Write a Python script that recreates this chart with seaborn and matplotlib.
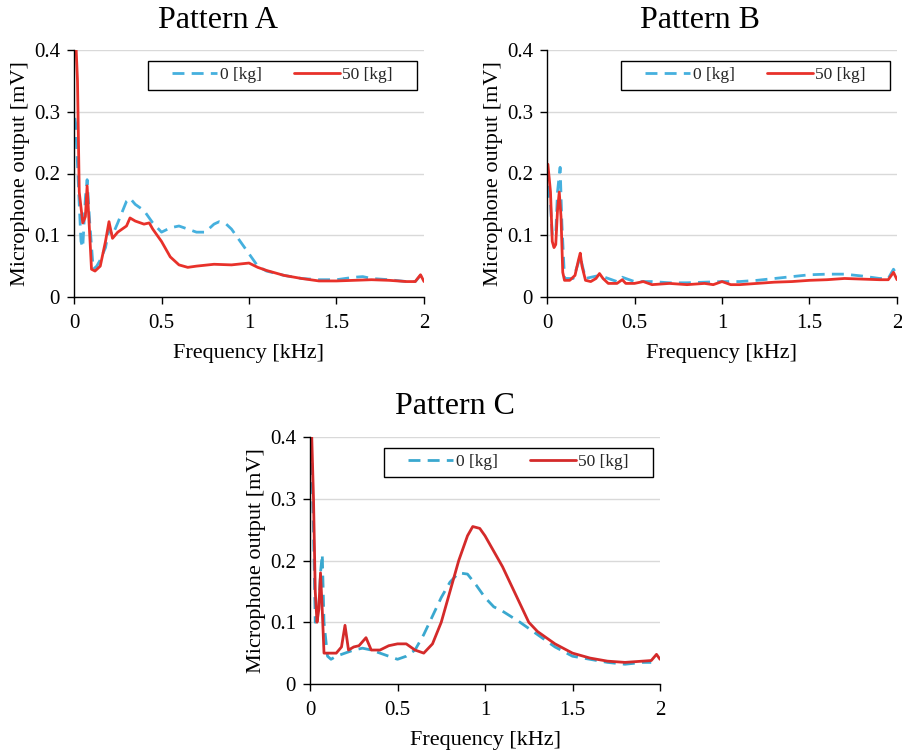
import numpy as np
import pandas as pd
import matplotlib
matplotlib.use("Agg")
import matplotlib.pyplot as plt
from matplotlib.patches import Rectangle
import seaborn as sns

# ---------------- data ----------------
titles = ["Pattern A", "Pattern B", "Pattern C"]
series_labels = ["0 [kg]", "50 [kg]"]

a0_f = [0.005, 0.01, 0.03, 0.04, 0.05, 0.065, 0.075, 0.09, 0.11, 0.13, 0.15, 0.18, 0.2, 0.22, 0.25, 0.3, 0.32,
        0.35, 0.4, 0.45, 0.5, 0.55, 0.6, 0.65, 0.7, 0.75, 0.8, 0.83, 0.87, 0.9, 0.95, 1.0, 1.05, 1.1, 1.2,
        1.3, 1.4, 1.5, 1.6, 1.65, 1.7, 1.8, 1.9, 1.95, 1.98, 2.0]
a0_v = [0.29, 0.28, 0.15, 0.09, 0.08, 0.16, 0.19, 0.12, 0.045, 0.05, 0.06, 0.08, 0.11, 0.1, 0.12, 0.155, 0.16,
        0.15, 0.14, 0.12, 0.105, 0.112, 0.115, 0.11, 0.105, 0.105, 0.118, 0.122, 0.118, 0.11, 0.09, 0.07, 0.05,
        0.042, 0.035, 0.03, 0.028, 0.028, 0.032, 0.033, 0.03, 0.028, 0.025, 0.025, 0.035, 0.025]
a50_f = [0.005, 0.02, 0.03, 0.05, 0.065, 0.075, 0.09, 0.1, 0.12, 0.15, 0.18, 0.2, 0.22, 0.25, 0.3, 0.32, 0.35,
         0.4, 0.43, 0.45, 0.5, 0.55, 0.6, 0.65, 0.7, 0.8, 0.9, 1.0, 1.05, 1.1, 1.2, 1.3, 1.4, 1.5, 1.6, 1.7,
         1.8, 1.9, 1.95, 1.98, 2.0]
a50_v = [0.45, 0.35, 0.17, 0.12, 0.13, 0.18, 0.1, 0.045, 0.042, 0.05, 0.09, 0.122, 0.095, 0.105, 0.115, 0.128,
         0.123, 0.118, 0.12, 0.11, 0.09, 0.065, 0.052, 0.048, 0.05, 0.053, 0.052, 0.055, 0.048, 0.043, 0.035,
         0.03, 0.026, 0.026, 0.027, 0.028, 0.027, 0.025, 0.025, 0.036, 0.025]

b0_f = [0.005, 0.02, 0.03, 0.05, 0.06, 0.075, 0.085, 0.1, 0.15, 0.19, 0.22, 0.3, 0.4, 0.43, 0.5, 0.6, 0.7,
        0.8, 0.9, 1.0, 1.1, 1.2, 1.3, 1.4, 1.5, 1.6, 1.7, 1.8, 1.9, 1.95, 1.98, 2.0]
b0_v = [0.18, 0.15, 0.1, 0.1, 0.17, 0.21, 0.12, 0.03, 0.03, 0.065, 0.03, 0.035, 0.025, 0.032, 0.025, 0.025,
        0.023, 0.023, 0.024, 0.025, 0.025, 0.027, 0.03, 0.033, 0.036, 0.037, 0.037, 0.034, 0.03, 0.03, 0.045,
        0.035]
b50_f = [0.005, 0.02, 0.03, 0.04, 0.05, 0.06, 0.07, 0.08, 0.09, 0.1, 0.13, 0.16, 0.18, 0.19, 0.2, 0.22, 0.25,
         0.28, 0.3, 0.32, 0.35, 0.4, 0.43, 0.45, 0.5, 0.55, 0.6, 0.7, 0.8, 0.9, 0.95, 1.0, 1.05, 1.1, 1.2,
         1.3, 1.4, 1.5, 1.6, 1.7, 1.8, 1.9, 1.95, 1.98, 2.0]
b50_v = [0.215, 0.17, 0.09, 0.08, 0.085, 0.14, 0.17, 0.13, 0.04, 0.027, 0.027, 0.035, 0.06, 0.071, 0.05, 0.027,
         0.025, 0.03, 0.038, 0.03, 0.022, 0.022, 0.028, 0.022, 0.022, 0.025, 0.02, 0.022, 0.02, 0.022, 0.02,
         0.025, 0.02, 0.02, 0.022, 0.024, 0.025, 0.027, 0.028, 0.03, 0.029, 0.028, 0.028, 0.04, 0.028]

c0_f = [0.005, 0.02, 0.03, 0.05, 0.06, 0.07, 0.08, 0.1, 0.12, 0.15, 0.2, 0.25, 0.3, 0.35, 0.4, 0.45, 0.5,
        0.55, 0.6, 0.65, 0.7, 0.75, 0.8, 0.85, 0.9, 0.95, 1.0, 1.05, 1.1, 1.2, 1.3, 1.4, 1.5, 1.6, 1.7, 1.8,
        1.9, 1.95]
c0_v = [0.42, 0.25, 0.1, 0.12, 0.18, 0.21, 0.1, 0.045, 0.04, 0.045, 0.05, 0.055, 0.058, 0.055, 0.05, 0.045,
        0.04, 0.045, 0.055, 0.08, 0.11, 0.14, 0.165, 0.18, 0.178, 0.16, 0.14, 0.125, 0.118, 0.1, 0.08, 0.06,
        0.045, 0.04, 0.035, 0.032, 0.035, 0.035]
c50_f = [0.005, 0.02, 0.03, 0.04, 0.05, 0.06, 0.07, 0.08, 0.1, 0.15, 0.18, 0.2, 0.22, 0.25, 0.28, 0.32, 0.35,
         0.4, 0.45, 0.5, 0.55, 0.6, 0.65, 0.7, 0.75, 0.8, 0.85, 0.9, 0.93, 0.97, 1.0, 1.05, 1.1, 1.15, 1.2,
         1.25, 1.3, 1.4, 1.5, 1.6, 1.7, 1.8, 1.9, 1.95, 1.98, 2.0]
c50_v = [0.45, 0.3, 0.15, 0.1, 0.12, 0.18, 0.12, 0.05, 0.05, 0.05, 0.06, 0.095, 0.055, 0.06, 0.062, 0.075, 0.055,
         0.055, 0.062, 0.065, 0.065, 0.055, 0.05, 0.065, 0.1, 0.15, 0.2, 0.24, 0.255, 0.252, 0.24, 0.215, 0.19,
         0.16, 0.13, 0.1, 0.085, 0.065, 0.05, 0.042, 0.037, 0.035, 0.037, 0.038, 0.048, 0.04]

x_ticks = [0, 0.5, 1, 1.5, 2]
x_tick_labels = ["0", "0.5", "1", "1.5", "2"]
y_ticks = [0, 0.1, 0.2, 0.3, 0.4]
y_tick_labels = ["0", "0.1", "0.2", "0.3", "0.4"]

panels = [
    (a0_f, a0_v, a50_f, a50_v, "#45B0DE", "#E8312A"),
    (b0_f, b0_v, b50_f, b50_v, "#45B0DE", "#E8312A"),
    (c0_f, c0_v, c50_f, c50_v, "#3AA8CF", "#D42A2A"),
]

# ---------------- style ----------------
sns.set_style("white")
plt.rcParams["font.family"] = ["Liberation Serif", "DejaVu Serif"]

fig = plt.figure(figsize=(9.02, 7.5), dpi=100)
W, H = 902, 750
boxes = [(74, 50, 424, 297), (547, 50, 897, 297), (310, 437, 660, 684)]
title_pos = [(218, 21), (700, 21), (455, 406)]
leg_x0, leg_x1, leg_y0, leg_y1 = 0.21, 0.98, 0.84, 0.955

for i, (box, (f0, v0, f50, v50, blue, red)) in enumerate(zip(boxes, panels)):
    l, t, r, b = box
    ax = fig.add_axes([l / W, 1 - b / H, (r - l) / W, (b - t) / H])
    df0 = pd.DataFrame({"f": f0, "v": v0})
    df50 = pd.DataFrame({"f": f50, "v": v50})
    sns.lineplot(data=df0, x="f", y="v", ax=ax, color=blue, linestyle=(0, (4.3, 2.6)),
                 linewidth=2.0, label=series_labels[0])
    sns.lineplot(data=df50, x="f", y="v", ax=ax, color=red, linewidth=2.0, label=series_labels[1])
    ax.set_xlim(0, 2)
    ax.set_ylim(0, 0.4)
    ax.set_xticks(x_ticks)
    ax.set_xticklabels(x_tick_labels)
    ax.set_yticks(y_ticks)
    ax.set_yticklabels(y_tick_labels)
    ax.yaxis.grid(True, color="#D9D9D9", linewidth=1.0)
    ax.xaxis.grid(False)
    for s in ["top", "right"]:
        ax.spines[s].set_visible(False)
    for s in ["left", "bottom"]:
        ax.spines[s].set_color("black")
        ax.spines[s].set_linewidth(1.0)
    ax.tick_params(axis="both", which="major", direction="out", length=5, width=1,
                   color="black", labelsize=15, labelcolor="black", pad=5, bottom=True, left=True)
    ax.tick_params(axis="x", pad=7)
    ax.set_xlabel("Frequency [kHz]", fontsize=16, color="black", labelpad=8)
    ax.set_ylabel("Microphone output [mV]", fontsize=16, color="black", labelpad=3)
    # legend frame + centered entries
    ax.add_patch(Rectangle((leg_x0, leg_y0), leg_x1 - leg_x0, leg_y1 - leg_y0, transform=ax.transAxes,
                           facecolor="white", edgecolor="black", linewidth=1.0, zorder=4))
    leg = ax.legend(ncol=2, loc="center",
                    bbox_to_anchor=((leg_x0 + leg_x1) / 2, (leg_y0 + leg_y1) / 2),
                    frameon=False, fontsize=12.5, handlelength=2.6, columnspacing=1.9,
                    handletextpad=0.15, borderpad=0.0)
    leg.set_zorder(5)
    tx, ty = title_pos[i]
    fig.text(tx / W, 1 - ty / H, titles[i], ha="center", va="center", fontsize=23, color="black")

fig.savefig("out.png", dpi=100)
